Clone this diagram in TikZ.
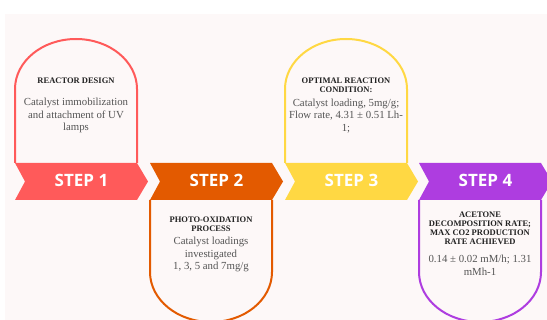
\documentclass[tikz,border=0pt]{standalone}
\usepackage{fontspec}
\setmainfont{Liberation Serif}
\newfontfamily\stepfont{Open Sans}
\definecolor{bgpink}{HTML}{FDF8F8}
\definecolor{cred}{HTML}{FF5A5A}
\definecolor{corange}{HTML}{E35A00}
\definecolor{cyellow}{HTML}{FFD843}
\definecolor{cpurple}{HTML}{AE3DE0}
\definecolor{titlegray}{HTML}{222222}
\definecolor{bodygray}{HTML}{555555}
\tikzset{
  boxline/.style={line width=2pt, fill=bgpink},
  title/.style={font=\fontsize{8.5}{9}\selectfont\bfseries, text=titlegray, align=center, inner sep=0pt},
  body/.style={font=\fontsize{10.8}{12.8}\selectfont, text=bodygray, align=center, inner sep=0pt},
  steplabel/.style={font=\stepfont\fontsize{17}{19}\selectfont\bfseries, text=white, inner sep=0pt}
}
\newcommand\topbox[2]{\draw[boxline, draw=#2] (#1,163) -- (#1,89) arc[start angle=180, end angle=360, x radius=61, y radius=50] -- (#1+122,163);}
\newcommand\botbox[2]{\draw[boxline, draw=#2] (#1,200) -- (#1,272) arc[start angle=180, end angle=0, x radius=61, y radius=50] -- (#1+122,200);}
\newcommand\chevshape[2]{\fill[#2] (#1,163) -- ++(122,0) -- ++(11,18.5) -- ++(-11,18.5) -- ++(-122,0) -- ++(10,-18.5) -- cycle;}
\begin{document}
\begin{tikzpicture}[x=1pt,y=-1pt]
\useasboundingbox (0,0) rectangle (547,320);
\clip (0,0) rectangle (547,320);
\fill[white] (0,0) rectangle (547,320);
\fill[bgpink] (5,14) rectangle (547,320);
% boxes
\topbox{15}{cred}
\botbox{150}{corange}
\topbox{285}{cyellow}
\botbox{419}{cpurple}
% chevrons
\chevshape{15}{cred}
\chevshape{150}{corange}
\chevshape{285}{cyellow}
\chevshape{419}{cpurple}
% step labels
\node[steplabel] (s1) at (81.5,180.5) {STEP 1};
\node[steplabel] (s2) at (216.5,180.5) {STEP 2};
\node[steplabel] (s3) at (351.5,180.5) {STEP 3};
\node[steplabel] (s4) at (485.5,180.5) {STEP 4};
% texts
\node[title] (t1) at (76,81) {REACTOR DESIGN};
\node[body] (b1) at (76,115.5) {Catalyst immobilization\\ and attachment of UV\\ lamps};
\node[title] (t2) at (211,224) {PHOTO-OXIDATION\\ PROCESS};
\node[body] (b2) at (211,254.5) {Catalyst loadings\\ investigated\\ 1, 3, 5 and 7mg/g};
\node[title] (t3) at (346,85) {OPTIMAL REACTION\\ CONDITION:};
\node[body] (b3) at (346,116) {Catalyst loading, 5mg/g;\\ Flow rate, 4.31 ± 0.51 Lh-\\ 1;};
\node[title] (t4) at (480,228.5) {ACETONE\\ DECOMPOSITION RATE;\\ MAX CO2 PRODUCTION\\ RATE ACHIEVED};
\node[body] (b4) at (480,265.5) {0.14 ± 0.02 mM/h; 1.31\\ mMh-1};
\end{tikzpicture}
\end{document}
